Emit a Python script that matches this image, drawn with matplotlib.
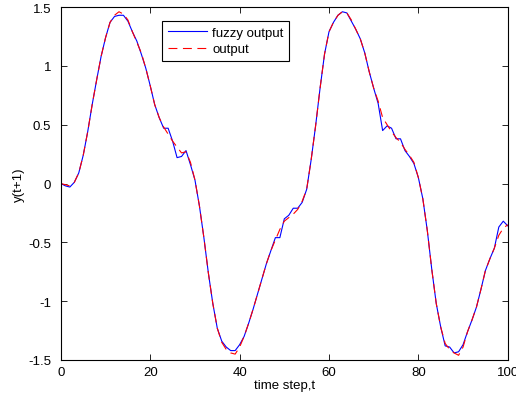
import numpy as np
import matplotlib
matplotlib.use("Agg")
import matplotlib.pyplot as plt

# time steps and the two outputs
time_step = np.arange(0, 101)

output = [
    0.00, -0.01, -0.02, 0.01, 0.09, 0.24, 0.44, 0.67, 0.88, 1.08,
    1.24, 1.37, 1.43, 1.46, 1.44, 1.39, 1.29, 1.20, 1.11, 0.98,
    0.83, 0.67, 0.56, 0.48, 0.42, 0.36, 0.31, 0.26, 0.27, 0.18,
    0.03, -0.19, -0.46, -0.76, -1.02, -1.23, -1.35, -1.41, -1.44, -1.45,
    -1.39, -1.30, -1.19, -1.07, -0.94, -0.81, -0.68, -0.57, -0.48, -0.39,
    -0.32, -0.29, -0.26, -0.22, -0.15, -0.05, 0.20, 0.49, 0.81, 1.10,
    1.29, 1.37, 1.43, 1.46, 1.45, 1.39, 1.31, 1.23, 1.11, 0.95,
    0.81, 0.70, 0.56, 0.50, 0.44, 0.39, 0.35, 0.29, 0.24, 0.18,
    0.05, -0.13, -0.40, -0.73, -1.02, -1.22, -1.36, -1.41, -1.44, -1.46,
    -1.39, -1.26, -1.16, -1.05, -0.90, -0.74, -0.64, -0.55, -0.44, -0.38,
    -0.35,
]

fuzzy_output = [
    0.00, -0.02, -0.03, 0.01, 0.09, 0.24, 0.44, 0.67, 0.88, 1.08,
    1.24, 1.37, 1.42, 1.43, 1.43, 1.38, 1.29, 1.21, 1.10, 0.98,
    0.83, 0.67, 0.56, 0.47, 0.47, 0.36, 0.22, 0.23, 0.28, 0.16,
    0.03, -0.19, -0.46, -0.76, -1.02, -1.23, -1.34, -1.39, -1.42, -1.42,
    -1.37, -1.30, -1.19, -1.07, -0.94, -0.81, -0.68, -0.57, -0.46, -0.46,
    -0.30, -0.27, -0.21, -0.21, -0.16, -0.05, 0.20, 0.49, 0.81, 1.10,
    1.29, 1.37, 1.43, 1.46, 1.45, 1.38, 1.31, 1.23, 1.11, 0.95,
    0.81, 0.68, 0.45, 0.49, 0.47, 0.38, 0.38, 0.28, 0.23, 0.17,
    0.05, -0.13, -0.40, -0.73, -1.02, -1.22, -1.38, -1.39, -1.44, -1.43,
    -1.37, -1.26, -1.16, -1.05, -0.90, -0.74, -0.64, -0.55, -0.37, -0.32,
    -0.36,
]

x_ticks = [0, 20, 40, 60, 80, 100]
y_ticks = [-1.5, -1, -0.5, 0, 0.5, 1, 1.5]
y_tick_labels = ["-1.5", "-1", "-0.5", "0", "0.5", "1", "1.5"]

plt.rcParams['font.family'] = ['Liberation Sans', 'DejaVu Sans']
plt.rcParams['font.size'] = 9.5

fig = plt.figure(figsize=(5.16, 4.02), dpi=100)
ax = fig.add_axes([0.118, 0.102, 0.866, 0.878])

ax.plot(time_step, fuzzy_output, color='#0000ff', linewidth=0.8, label='fuzzy output')
ax.plot(time_step, output, color='#ff0000', linewidth=0.8, linestyle=(0, (8, 5)), label='output')

ax.set_xlim(0, 100)
ax.set_ylim(-1.5, 1.5)
ax.set_xticks(x_ticks)
ax.set_yticks(y_ticks)
ax.set_yticklabels(y_tick_labels)
ax.tick_params(direction='in', top=True, right=True, length=4, width=0.6)
ax.tick_params(axis='x', pad=4)
ax.tick_params(axis='y', pad=7)
for spine in ax.spines.values():
    spine.set_linewidth(0.8)

ax.set_xlabel('time step,t', labelpad=1)
ax.set_ylabel('y(t+1)', labelpad=2)

leg = ax.legend(loc='upper left', bbox_to_anchor=(0.226, 0.961), fancybox=False,
                edgecolor='black', framealpha=1, handlelength=3.0, borderpad=0.45,
                labelspacing=0.3, handletextpad=0.35, borderaxespad=0)
leg.get_frame().set_linewidth(0.8)

fig.savefig('out.png', dpi=100)
